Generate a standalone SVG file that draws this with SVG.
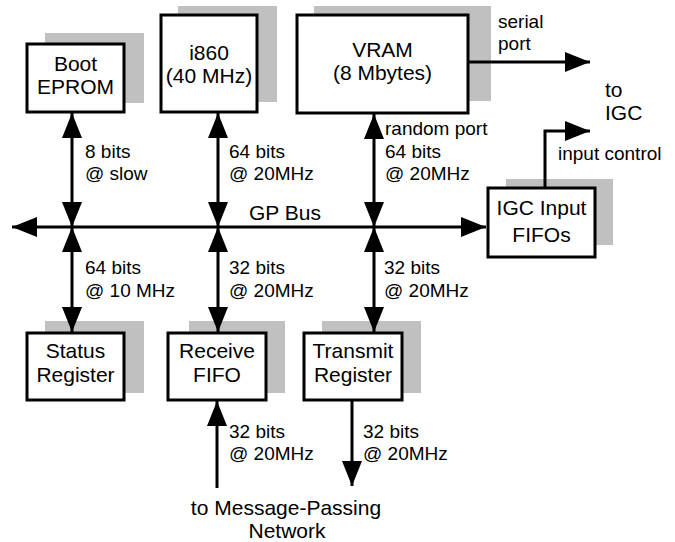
<svg xmlns="http://www.w3.org/2000/svg" width="675" height="542" viewBox="0 0 675 542">
<style>
.sh{fill:#c0c0c0;stroke:none}
.bx{fill:#fff;stroke:#000;stroke-width:3}
.bt{font-family:"Liberation Sans",Arial,sans-serif;font-size:21px;text-anchor:middle;fill:#000}
.lb{font-family:"Liberation Sans",Arial,sans-serif;font-size:19px;fill:#000}
.ln{stroke:#000;stroke-width:3;fill:none}
</style>
<defs>
<marker id="ah" viewBox="0 0 25 20" refX="25" refY="10" markerWidth="25" markerHeight="20" markerUnits="userSpaceOnUse" orient="auto-start-reverse">
<path d="M0,0 L25,10 L0,20 z" fill="#000"/>
</marker>
</defs>
<rect width="675" height="542" fill="#fff"/>
<g id="boot">
<rect class="sh" x="45" y="33" width="99" height="70"/>
<rect class="bx" x="27" y="44" width="97" height="68"/>
<text class="bt" x="75.5" y="71">Boot</text>
<text class="bt" x="75.5" y="94">EPROM</text>
</g>
<g id="i860">
<rect class="sh" x="178" y="6" width="99" height="96"/>
<rect class="bx" x="161" y="15" width="96" height="97"/>
<text class="bt" x="209" y="60">i860</text>
<text class="bt" x="209" y="83">(40 MHz)</text>
</g>
<g id="vram">
<rect class="sh" x="314" y="6" width="177" height="95"/>
<rect class="bx" x="297" y="15" width="171" height="98"/>
<text class="bt" x="382.5" y="57">VRAM</text>
<text class="bt" x="382.5" y="80">(8 Mbytes)</text>
</g>
<g id="igc">
<rect class="sh" x="506" y="179" width="107" height="66"/>
<rect class="bx" x="488" y="188" width="107" height="69"/>
<text class="bt" x="541.5" y="215">IGC Input</text>
<text class="bt" x="541.5" y="242">FIFOs</text>
</g>
<g id="status">
<rect class="sh" x="45" y="321" width="99" height="72"/>
<rect class="bx" x="27" y="333" width="97" height="67"/>
<text class="bt" x="75.5" y="358">Status</text>
<text class="bt" x="75.5" y="382">Register</text>
</g>
<g id="receive">
<rect class="sh" x="189" y="321" width="96" height="72"/>
<rect class="bx" x="168" y="333" width="98" height="67"/>
<text class="bt" x="217" y="358">Receive</text>
<text class="bt" x="217" y="382">FIFO</text>
</g>
<g id="transmit">
<rect class="sh" x="322" y="321" width="99" height="72"/>
<rect class="bx" x="304" y="333" width="98" height="67"/>
<text class="bt" x="353" y="358">Transmit</text>
<text class="bt" x="353" y="382">Register</text>
</g>
<g id="connectors">
<line class="ln" x1="12" y1="227" x2="486" y2="227" marker-start="url(#ah)" marker-end="url(#ah)"/>
<line class="ln" x1="72" y1="113" x2="72" y2="227" marker-start="url(#ah)" marker-end="url(#ah)"/>
<line class="ln" x1="218" y1="113" x2="218" y2="227" marker-start="url(#ah)" marker-end="url(#ah)"/>
<line class="ln" x1="374" y1="114" x2="374" y2="227" marker-start="url(#ah)" marker-end="url(#ah)"/>
<line class="ln" x1="72" y1="227" x2="72" y2="332" marker-start="url(#ah)" marker-end="url(#ah)"/>
<line class="ln" x1="218" y1="227" x2="218" y2="332" marker-start="url(#ah)" marker-end="url(#ah)"/>
<line class="ln" x1="374" y1="227" x2="374" y2="332" marker-start="url(#ah)" marker-end="url(#ah)"/>
<line class="ln" x1="217" y1="488" x2="217" y2="401" marker-end="url(#ah)"/>
<line class="ln" x1="352" y1="401" x2="352" y2="486" marker-end="url(#ah)"/>
<line class="ln" x1="469" y1="62" x2="590" y2="62" marker-end="url(#ah)"/>
<polyline class="ln" points="545,187 545,131 590,131" marker-end="url(#ah)"/>
</g>
<g id="labels">
<text class="bt" x="285" y="220">GP Bus</text>
<text class="lb" x="85" y="158">8 bits</text>
<text class="lb" x="85" y="180">@ slow</text>
<text class="lb" x="229" y="158">64 bits</text>
<text class="lb" x="229" y="180">@ 20MHz</text>
<text class="lb" x="385" y="135">random port</text>
<text class="lb" x="385" y="158">64 bits</text>
<text class="lb" x="385" y="180">@ 20MHz</text>
<text class="lb" x="498" y="28">serial</text>
<text class="lb" x="498" y="50">port</text>
<text class="bt" x="605" y="97" text-anchor="start" style="text-anchor:start">to</text>
<text class="bt" x="605" y="120" style="text-anchor:start">IGC</text>
<text class="lb" x="558" y="160">input control</text>
<text class="lb" x="85" y="274">64 bits</text>
<text class="lb" x="85" y="297">@ 10 MHz</text>
<text class="lb" x="229" y="274">32 bits</text>
<text class="lb" x="229" y="297">@ 20MHz</text>
<text class="lb" x="384" y="274">32 bits</text>
<text class="lb" x="384" y="297">@ 20MHz</text>
<text class="lb" x="229" y="438">32 bits</text>
<text class="lb" x="229" y="460">@ 20MHz</text>
<text class="lb" x="363" y="438">32 bits</text>
<text class="lb" x="363" y="460">@ 20MHz</text>
<text class="bt" x="286" y="515">to Message-Passing</text>
<text class="bt" x="287" y="538">Network</text>
</g>
</svg>
